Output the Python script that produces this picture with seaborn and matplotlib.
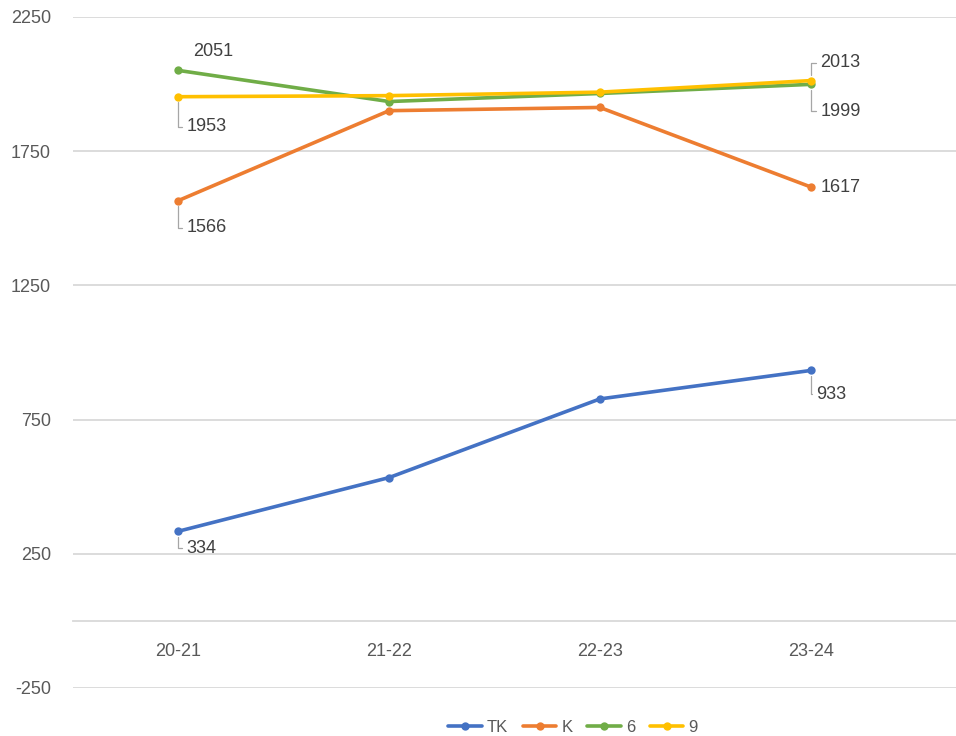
import matplotlib
matplotlib.use("Agg")
import matplotlib.pyplot as plt
import seaborn as sns
import pandas as pd

# ---- data ----
periods = ["20-21", "21-22", "22-23", "23-24"]
series_names = ["TK", "K", "6", "9"]
tk_values = [334, 534, 827, 933]
k_values = [1566, 1901, 1913, 1617]
s6_values = [2051, 1935, 1965, 1999]
s9_values = [1953, 1957, 1970, 2013]
y_ticks = [-250, 250, 750, 1250, 1750, 2250]

values = {"TK": tk_values, "K": k_values, "6": s6_values, "9": s9_values}
rows = []
for name in series_names:
    for p, v in zip(periods, values[name]):
        rows.append({"period": p, "value": v, "series": name})
df = pd.DataFrame(rows)

# ---- style ----
sns.set_theme(style="white")
plt.rcParams["font.family"] = ["Liberation Sans", "DejaVu Sans"]
text_color = "#595959"
grid_color = "#D9D9D9"
palette = {"TK": "#4472C4", "K": "#ED7D31", "6": "#70AD47", "9": "#FFC000"}

fig = plt.figure(figsize=(9.56, 7.36), dpi=100)
ax = fig.add_axes([73 / 956, 1 - 688 / 736, 1 - 73 / 956, (688 - 17) / 736])

sns.lineplot(data=df, x="period", y="value", hue="series", hue_order=series_names,
             palette=palette, marker="o", markersize=6, markeredgewidth=0,
             linewidth=2.6, sort=False, ax=ax)

ax.set_ylim(-250, 2250)
ax.set_xlim(-0.5, 3.69)
ax.set_yticks(y_ticks)
ax.set_yticklabels([str(t) for t in y_ticks])
ax.yaxis.grid(True, color=grid_color, linewidth=1.3)
ax.set_axisbelow(True)
for s in ["top", "right", "left"]:
    ax.spines[s].set_visible(False)
ax.spines["bottom"].set_position(("data", 0))
ax.spines["bottom"].set_color(grid_color)
ax.spines["bottom"].set_linewidth(1.3)
ax.tick_params(axis="y", length=0, pad=16, labelsize=13, labelcolor=text_color)
ax.tick_params(axis="x", length=0, pad=16, labelsize=13, labelcolor=text_color)
ax.set_xlabel("")
ax.set_ylabel("")

# ---- data labels (layout: series, index, dx px, dy px, leader) ----
label_layout = [
    ("6", 0, 15, 19, False),
    ("9", 0, 8, -30, True),
    ("K", 0, 8, -27, True),
    ("9", 3, 10, 18, True),
    ("6", 3, 10, -27, True),
    ("K", 3, 10, -1, False),
    ("TK", 3, 6, -24, True),
    ("TK", 0, 8, -17, True),
]
for name, i, dx, dy, leader in label_layout:
    v = values[name][i]
    kw = {}
    if leader:
        kw["arrowprops"] = dict(arrowstyle="-", color="#A6A6A6", lw=0.9,
                                connectionstyle="angle,angleA=0,angleB=90,rad=0",
                                relpos=(0, 0.5), shrinkA=1, shrinkB=4)
    ax.annotate(str(v), xy=(i, v), xytext=(dx, dy), textcoords="offset pixels",
                ha="left", va="center", fontsize=13, color="#404040", **kw)

# ---- legend ----
handles, labels = ax.get_legend_handles_labels()
ax.legend_.remove() if ax.legend_ else None
fig.legend(handles, labels, loc="center", bbox_to_anchor=(573 / 956, 1 - 727 / 736),
           ncol=4, frameon=False, fontsize=12, labelcolor=text_color,
           handlelength=2.0, handletextpad=0.3, columnspacing=0.9)

fig.savefig("out.png", dpi=100)
